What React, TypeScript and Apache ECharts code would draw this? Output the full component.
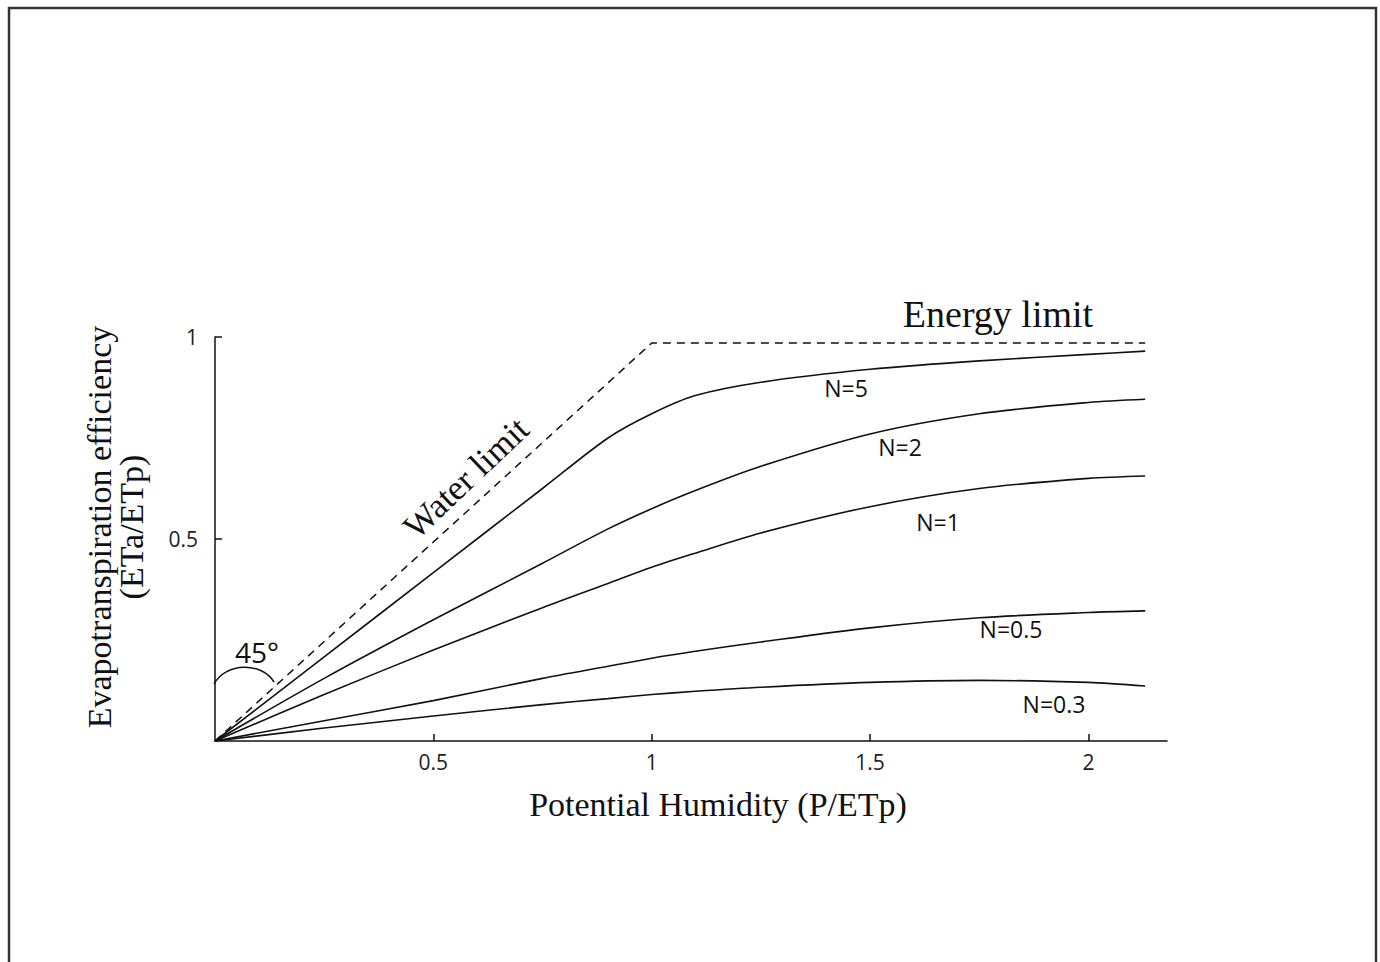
import React, { useEffect, useRef } from "react";
import * as echarts from "echarts";

const xTicks = [0.5, 1, 1.5, 2];
const yTicks = [0.5, 1];
const curveX = [0, 0.25, 0.5, 0.75, 0.9, 1.0, 1.1, 1.25, 1.5, 1.75, 2.0, 2.13];
const n5 = [0, 0.208, 0.417, 0.625, 0.75, 0.81, 0.855, 0.888, 0.92, 0.941, 0.957, 0.965];
const n2 = [0, 0.155, 0.3, 0.44, 0.525, 0.575, 0.62, 0.68, 0.76, 0.81, 0.838, 0.846];
const n1 = [0, 0.115, 0.225, 0.33, 0.39, 0.43, 0.465, 0.515, 0.58, 0.625, 0.65, 0.656];
const n05 = [0, 0.05, 0.1, 0.155, 0.185, 0.205, 0.222, 0.245, 0.28, 0.305, 0.318, 0.322];
const n03 = [0, 0.032, 0.062, 0.09, 0.105, 0.115, 0.123, 0.133, 0.145, 0.15, 0.145, 0.136];
const limitX = [0, 1, 2.13];
const limitY = [0, 0.985, 0.985];

const curves = [
  { name: "N=5", y: n5 },
  { name: "N=2", y: n2 },
  { name: "N=1", y: n1 },
  { name: "N=0.5", y: n05 },
  { name: "N=0.3", y: n03 },
];

const SERIF = "'Liberation Serif', 'Times New Roman', serif";
const SANS = "'Open Sans', 'Noto Sans', sans-serif";

export default function App() {
  const ref = useRef<HTMLDivElement>(null);
  useEffect(() => {
    if (!ref.current) return;
    const chart = echarts.init(ref.current, undefined, { renderer: "svg" });
    const zip = (xs: number[], ys: number[]) => xs.map((x, i) => [x, ys[i]]);
    const label = (text: string, x: number, y: number, size: number) => ({
      type: "text",
      x,
      y,
      style: { text, font: `${size}px ${SANS}`, fill: "#111", align: "center", verticalAlign: "middle" },
    });
    const option: any = {
      animation: false,
      backgroundColor: "#ffffff",
      grid: { left: 215, right: 213, top: 337, bottom: 221 },
      xAxis: {
        type: "value",
        min: 0,
        max: 2.18,
        name: "Potential Humidity (P/ETp)",
        nameLocation: "middle",
        nameGap: 46,
        nameTextStyle: { fontFamily: SERIF, fontSize: 34, color: "#111", padding: [0, 0, 0, 54] },
        axisLine: { show: true, lineStyle: { color: "#111", width: 1.5 } },
        axisTick: { show: true, inside: true, length: 7, customValues: xTicks, lineStyle: { color: "#111", width: 1.5 } },
        axisLabel: { show: true, customValues: xTicks, margin: 10, fontFamily: SANS, fontSize: 21, color: "#222" },
        splitLine: { show: false },
      },
      yAxis: {
        type: "value",
        min: 0,
        max: 1,
        name: "Evapotranspiration efficiency\n(ETa/ETp)",
        nameLocation: "middle",
        nameRotate: 90,
        nameGap: 68,
        nameTextStyle: { fontFamily: SERIF, fontSize: 34, color: "#111", lineHeight: 32, padding: [0, 0, 0, 24] },
        axisLine: { show: true, lineStyle: { color: "#111", width: 1.5 } },
        axisTick: { show: true, inside: true, length: 7, customValues: yTicks, lineStyle: { color: "#111", width: 1.5 } },
        axisLabel: { show: true, customValues: yTicks, margin: 17, fontFamily: SANS, fontSize: 21, color: "#222" },
        splitLine: { show: false },
      },
      series: [
        {
          type: "line",
          name: "limit",
          data: zip(limitX, limitY),
          symbol: "none",
          lineStyle: { color: "#111", width: 1.5, type: [8, 6] },
        },
        ...curves.map((c) => ({
          type: "line",
          name: c.name,
          data: zip(curveX, c.y),
          symbol: "none",
          smooth: 0.3,
          lineStyle: { color: "#111", width: 1.6 },
        })),
      ],
      graphic: [
        {
          type: "rect",
          shape: { x: 9, y: 8, width: 1367, height: 990 },
          style: { fill: "none", stroke: "#333", lineWidth: 2.5 },
        },
        { type: "text", x: 998, y: 314, style: { text: "Energy limit", font: `38px ${SERIF}`, fill: "#111", align: "center", verticalAlign: "middle" } },
        { type: "text", x: 466, y: 478, rotation: (Math.PI / 4) * 0.97, style: { text: "Water limit", font: `35px ${SERIF}`, fill: "#111", align: "center", verticalAlign: "middle" } },
        label("45°", 257, 652, 28),
        {
          type: "bezierCurve",
          shape: { x1: 214, y1: 684, cpx1: 226, cpy1: 662, cpx2: 262, cpy2: 662, x2: 274, y2: 682 },
          style: { fill: "none", stroke: "#111", lineWidth: 1.5 },
        },
        label("N=5", 846, 388, 23),
        label("N=2", 900, 447, 23),
        label("N=1", 938, 522, 23),
        label("N=0.5", 1011, 629, 23),
        label("N=0.3", 1054, 704, 23),
      ],
    };
    chart.setOption(option);
    return () => chart.dispose();
  }, []);
  return <div ref={ref} style={{ position: "absolute", left: 0, top: 0, width: 1380, height: 962 }} />;
}
